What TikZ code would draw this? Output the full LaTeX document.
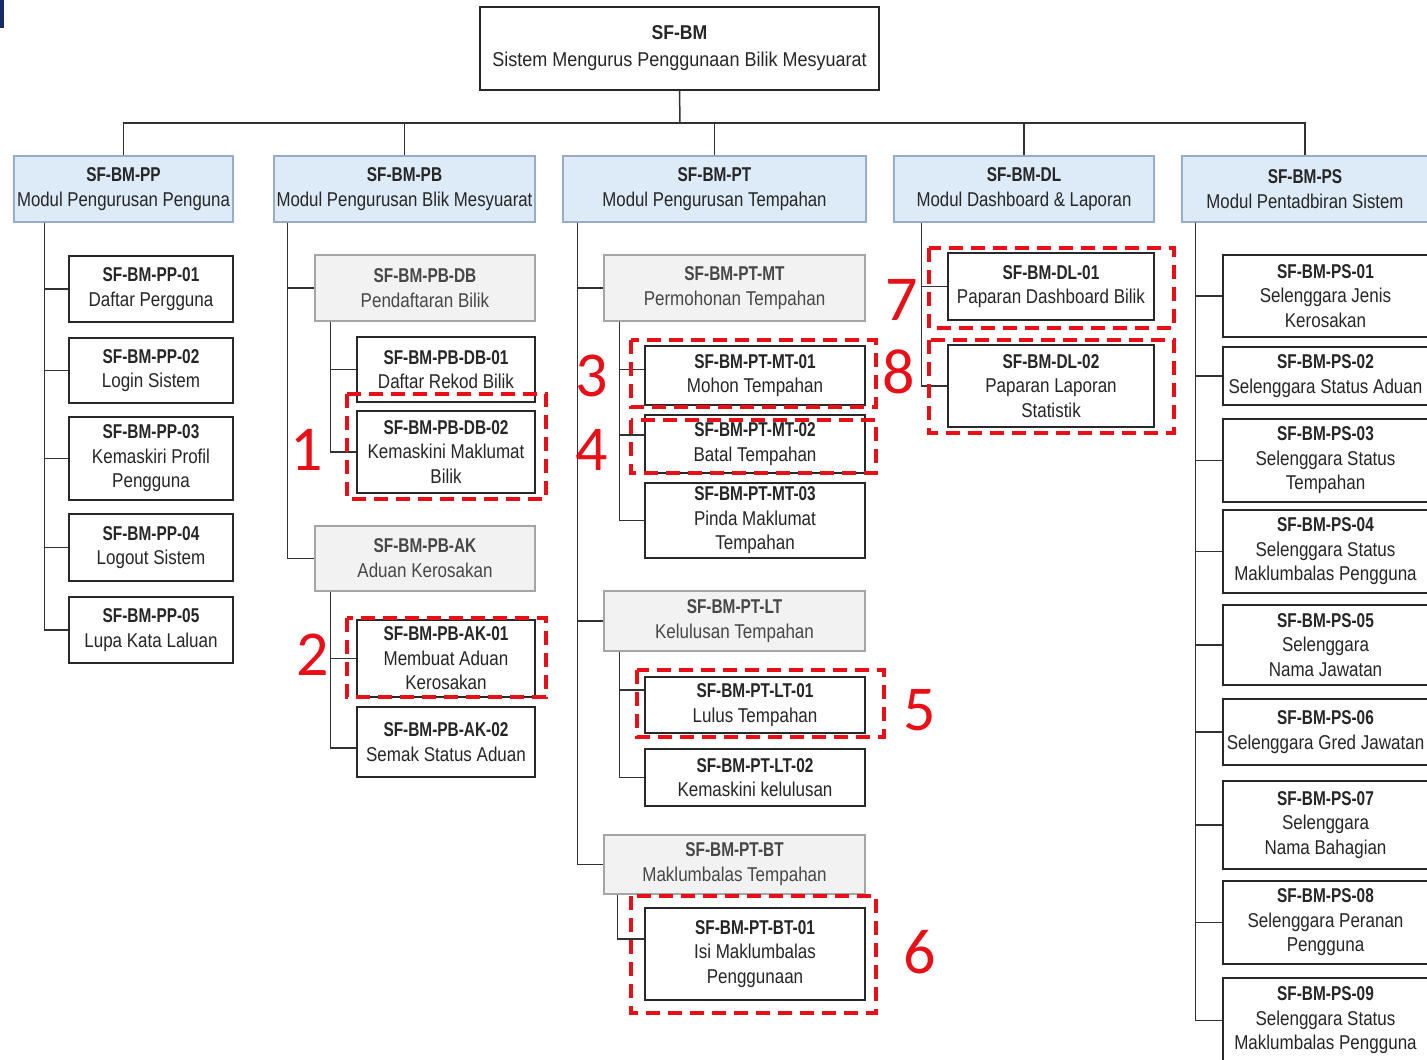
\documentclass[tikz,border=0pt]{standalone}
\usepackage{fontspec}
\setmainfont{Liberation Sans}
\newfontfamily\fR[FakeStretch=0.85]{Liberation Sans}
\newfontfamily\fL[FakeStretch=0.84]{Liberation Sans}
\newfontfamily\bR[FakeStretch=0.77]{Liberation Sans Bold}
\newfontfamily\fT[FakeStretch=0.9]{Liberation Sans}
\newfontfamily\bT[FakeStretch=0.88]{Liberation Sans Bold}
\newfontfamily\numf{Carlito}
\newcommand\hd[1]{{\bR #1}}
\definecolor{lblue}{RGB}{221,234,247}
\definecolor{lblueline}{RGB}{150,172,200}
\definecolor{lgray}{RGB}{242,242,242}
\definecolor{lgrayline}{RGB}{165,165,165}
\definecolor{boxline}{RGB}{40,40,40}
\definecolor{connc}{RGB}{50,50,50}
\definecolor{redc}{RGB}{232,16,22}
\definecolor{navyc}{RGB}{24,40,100}
\newcommand\mybox[7]{\node[#6, minimum width={(#4)-(#2)}, minimum height={(#5)-(#3)}] (#1) at ({((#2)+(#4))/2},{((#3)+(#5))/2}) {#7};}
\newcommand\lnk[3]{\draw[conn] (#1) |- ([yshift=#3]#2.west);}
\tikzset{
  base/.style={align=center, inner sep=0pt, text=black!85},
  topbox/.style={base, draw=boxline, line width=1.6pt, fill=white, font=\fT\fontsize{20}{27}\selectfont},
  lone/.style={base, draw=lblueline, line width=1.2pt, fill=lblue, font=\fL\fontsize{20}{25}\selectfont},
  ltwo/.style={base, draw=lgrayline, line width=1.2pt, fill=lgray, font=\fR\fontsize{20}{25}\selectfont, text=black!72},
  cbox/.style={base, draw=boxline, line width=1.8pt, fill=white, font=\fR\fontsize{20}{24.5}\selectfont},
  conn/.style={draw=connc, line width=1.5pt},
  redbox/.style={draw=redc, line width=3.5pt, dash pattern=on 14pt off 8pt},
  numlab/.style={inner sep=0pt, text=redc, font=\numf\fontsize{64}{64}\selectfont}
}
\begin{document}
\begin{tikzpicture}[x=1pt,y=-1pt]
\path[use as bounding box] (0,0) rectangle (1427,1060);
\clip (0,0) rectangle (1427,1060);
\fill[navyc] (0,0) rectangle (4,28);
% top
\mybox{top}{480}{7}{879}{90}{topbox}{{\bT SF-BM}\\Sistem Mengurus Penggunaan Bilik Mesyuarat}
% level 1
\mybox{pp}{14}{156}{233}{222}{lone}{\hd{SF-BM-PP}\\Modul Pengurusan Penguna}
\mybox{pb}{274}{156}{535}{222}{lone}{\hd{SF-BM-PB}\\Modul Pengurusan Blik Mesyuarat}
\mybox{pt}{563}{156}{866}{222}{lone}{\hd{SF-BM-PT}\\Modul Pengurusan Tempahan}
\mybox{dl}{894}{156}{1154}{222}{lone}{\hd{SF-BM-DL}\\Modul Dashboard \& Laporan}
\mybox{ps}{1182}{156}{1428}{222}{lone}{\hd{SF-BM-PS}\\Modul Pentadbiran Sistem}
\coordinate (bus) at (680,123);
\draw[conn] (top.south) -- (bus);
\draw[conn] (pp.north) -- (pp.north |- bus) -- (ps.north |- bus) -- (ps.north);
\draw[conn] (pb.north) -- (pb.north |- bus);
\draw[conn] (pt.north) -- (pt.north |- bus);
\draw[conn] (dl.north) -- (dl.north |- bus);
% level 2 (gray)
\mybox{pbdb}{315}{255}{535}{321}{ltwo}{\hd{SF-BM-PB-DB}\\Pendaftaran Bilik}
\mybox{pbak}{315}{526}{535}{591}{ltwo}{\hd{SF-BM-PB-AK}\\Aduan Kerosakan}
\mybox{ptmt}{604}{255}{865}{321}{ltwo}{\hd{SF-BM-PT-MT}\\Permohonan Tempahan}
\mybox{ptlt}{604}{591}{865}{651}{ltwo}{\hd{SF-BM-PT-LT}\\Kelulusan Tempahan}
\mybox{ptbt}{604}{835}{865}{894}{ltwo}{\hd{SF-BM-PT-BT}\\Maklumbalas Tempahan}
% PP children
\mybox{pp1}{69}{256}{233}{322}{cbox}{\hd{SF-BM-PP-01}\\Daftar Pergguna}
\mybox{pp2}{69}{338}{233}{403}{cbox}{\hd{SF-BM-PP-02}\\Login Sistem}
\mybox{pp3}{69}{417}{233}{500}{cbox}{\hd{SF-BM-PP-03}\\Kemaskiri Profil\\Pengguna}
\mybox{pp4}{69}{514}{233}{581}{cbox}{\hd{SF-BM-PP-04}\\Logout Sistem}
\mybox{pp5}{69}{597}{233}{663}{cbox}{\hd{SF-BM-PP-05}\\Lupa Kata Laluan}
% PB children
\mybox{db1}{357}{337}{535}{402}{cbox}{\hd{SF-BM-PB-DB-01}\\Daftar Rekod Bilik}
\mybox{db2}{357}{411}{535}{493}{cbox}{\hd{SF-BM-PB-DB-02}\\Kemaskini Maklumat\\Bilik}
\mybox{ak1}{357}{620}{535}{697}{cbox}{\hd{SF-BM-PB-AK-01}\\Membuat Aduan\\Kerosakan}
\mybox{ak2}{357}{707}{535}{777}{cbox}{\hd{SF-BM-PB-AK-02}\\Semak Status Aduan}
% PT children
\mybox{mt1}{645}{346}{865}{405}{cbox}{\hd{SF-BM-PT-MT-01}\\Mohon Tempahan}
\mybox{mt2}{645}{415}{865}{473}{cbox}{\hd{SF-BM-PT-MT-02}\\Batal Tempahan}
\mybox{mt3}{645}{483}{865}{558}{cbox}{\hd{SF-BM-PT-MT-03}\\Pinda Maklumat\\Tempahan}
\mybox{lt1}{645}{677}{865}{733}{cbox}{\hd{SF-BM-PT-LT-01}\\Lulus Tempahan}
\mybox{lt2}{645}{749}{865}{806}{cbox}{\hd{SF-BM-PT-LT-02}\\Kemaskini kelulusan}
\mybox{bt1}{645}{908}{865}{1000}{cbox}{\hd{SF-BM-PT-BT-01}\\Isi Maklumbalas\\Penggunaan}
% DL children
\mybox{dl1}{948}{253}{1154}{320}{cbox}{\hd{SF-BM-DL-01}\\Paparan Dashboard Bilik}
\mybox{dl2}{948}{345}{1154}{427}{cbox}{\hd{SF-BM-DL-02}\\Paparan Laporan\\Statistik}
% PS children
\mybox{ps1}{1223}{255}{1428}{337}{cbox}{\hd{SF-BM-PS-01}\\Selenggara Jenis\\Kerosakan}
\mybox{ps2}{1223}{347}{1428}{405}{cbox}{\hd{SF-BM-PS-02}\\Selenggara Status Aduan}
\mybox{ps3}{1223}{419}{1428}{502}{cbox}{\hd{SF-BM-PS-03}\\Selenggara Status\\Tempahan}
\mybox{ps4}{1223}{510}{1428}{593}{cbox}{\hd{SF-BM-PS-04}\\Selenggara Status\\Maklumbalas Pengguna}
\mybox{ps5}{1223}{605}{1428}{685}{cbox}{\hd{SF-BM-PS-05}\\Selenggara\\Nama Jawatan}
\mybox{ps6}{1223}{699}{1428}{765}{cbox}{\hd{SF-BM-PS-06}\\Selenggara Gred Jawatan}
\mybox{ps7}{1223}{781}{1428}{869}{cbox}{\hd{SF-BM-PS-07}\\Selenggara\\Nama Bahagian}
\mybox{ps8}{1223}{881}{1428}{964}{cbox}{\hd{SF-BM-PS-08}\\Selenggara Peranan\\Pengguna}
\mybox{ps9}{1223}{978}{1428}{1063}{cbox}{\hd{SF-BM-PS-09}\\Selenggara Status\\Maklumbalas Pengguna}
% spines
\coordinate (ppS) at ([xshift=31pt]pp.south west);
\coordinate (pbS) at ([xshift=14pt]pb.south west);
\coordinate (dbS) at ([xshift=16pt]pbdb.south west);
\coordinate (akS) at ([xshift=16pt]pbak.south west);
\coordinate (ptS) at ([xshift=15pt]pt.south west);
\coordinate (mtS) at ([xshift=16pt]ptmt.south west);
\coordinate (ltS) at ([xshift=16pt]ptlt.south west);
\coordinate (btS) at ([xshift=14pt]ptbt.south west);
\coordinate (dlS) at ([xshift=28pt]dl.south west);
\coordinate (psS) at ([xshift=14pt]ps.south west);
\lnk{ppS}{pp1}{0pt}\lnk{ppS}{pp2}{0pt}\lnk{ppS}{pp3}{0pt}\lnk{ppS}{pp4}{0pt}\lnk{ppS}{pp5}{0pt}
\lnk{pbS}{pbdb}{0pt}\lnk{pbS}{pbak}{0pt}
\lnk{dbS}{db1}{0pt}\lnk{dbS}{db2}{0pt}
\lnk{akS}{ak1}{0pt}\lnk{akS}{ak2}{-6pt}
\lnk{ptS}{ptmt}{0pt}\lnk{ptS}{ptlt}{0pt}\lnk{ptS}{ptbt}{0pt}
\lnk{mtS}{mt1}{6pt}\lnk{mtS}{mt2}{9pt}\lnk{mtS}{mt3}{0pt}
\lnk{ltS}{lt1}{15pt}\lnk{ltS}{lt2}{0pt}
\lnk{btS}{bt1}{15pt}
\lnk{dlS}{dl1}{0pt}\lnk{dlS}{dl2}{0pt}
\lnk{psS}{ps1}{0pt}\lnk{psS}{ps2}{0pt}\lnk{psS}{ps3}{0pt}\lnk{psS}{ps4}{0pt}\lnk{psS}{ps5}{0pt}
\lnk{psS}{ps6}{0pt}\lnk{psS}{ps7}{0pt}\lnk{psS}{ps8}{0pt}\lnk{psS}{ps9}{0pt}
% red highlights
\draw[redbox] (347,394) rectangle (546,499);
\draw[redbox] (347,618) rectangle (546,697);
\draw[redbox] (631,340) rectangle (876,407);
\draw[redbox] (631,420) rectangle (876,473);
\draw[redbox] (637,670) rectangle (884,737);
\draw[redbox] (631,896) rectangle (876,1013);
\draw[redbox] (929,248) rectangle (1174,328);
\draw[redbox] (929,340) rectangle (1174,433);
\node[numlab] (n1) at (307,450) {1};
\node[numlab] (n2) at (313,655) {2};
\node[numlab] (n3) at (592,376) {3};
\node[numlab] (n4) at (592,450) {4};
\node[numlab] (n5) at (920,710) {5};
\node[numlab] (n6) at (920,952) {6};
\node[numlab] (n7) at (902,300) {7};
\node[numlab] (n8) at (899,372) {8};
\end{tikzpicture}
\end{document}
